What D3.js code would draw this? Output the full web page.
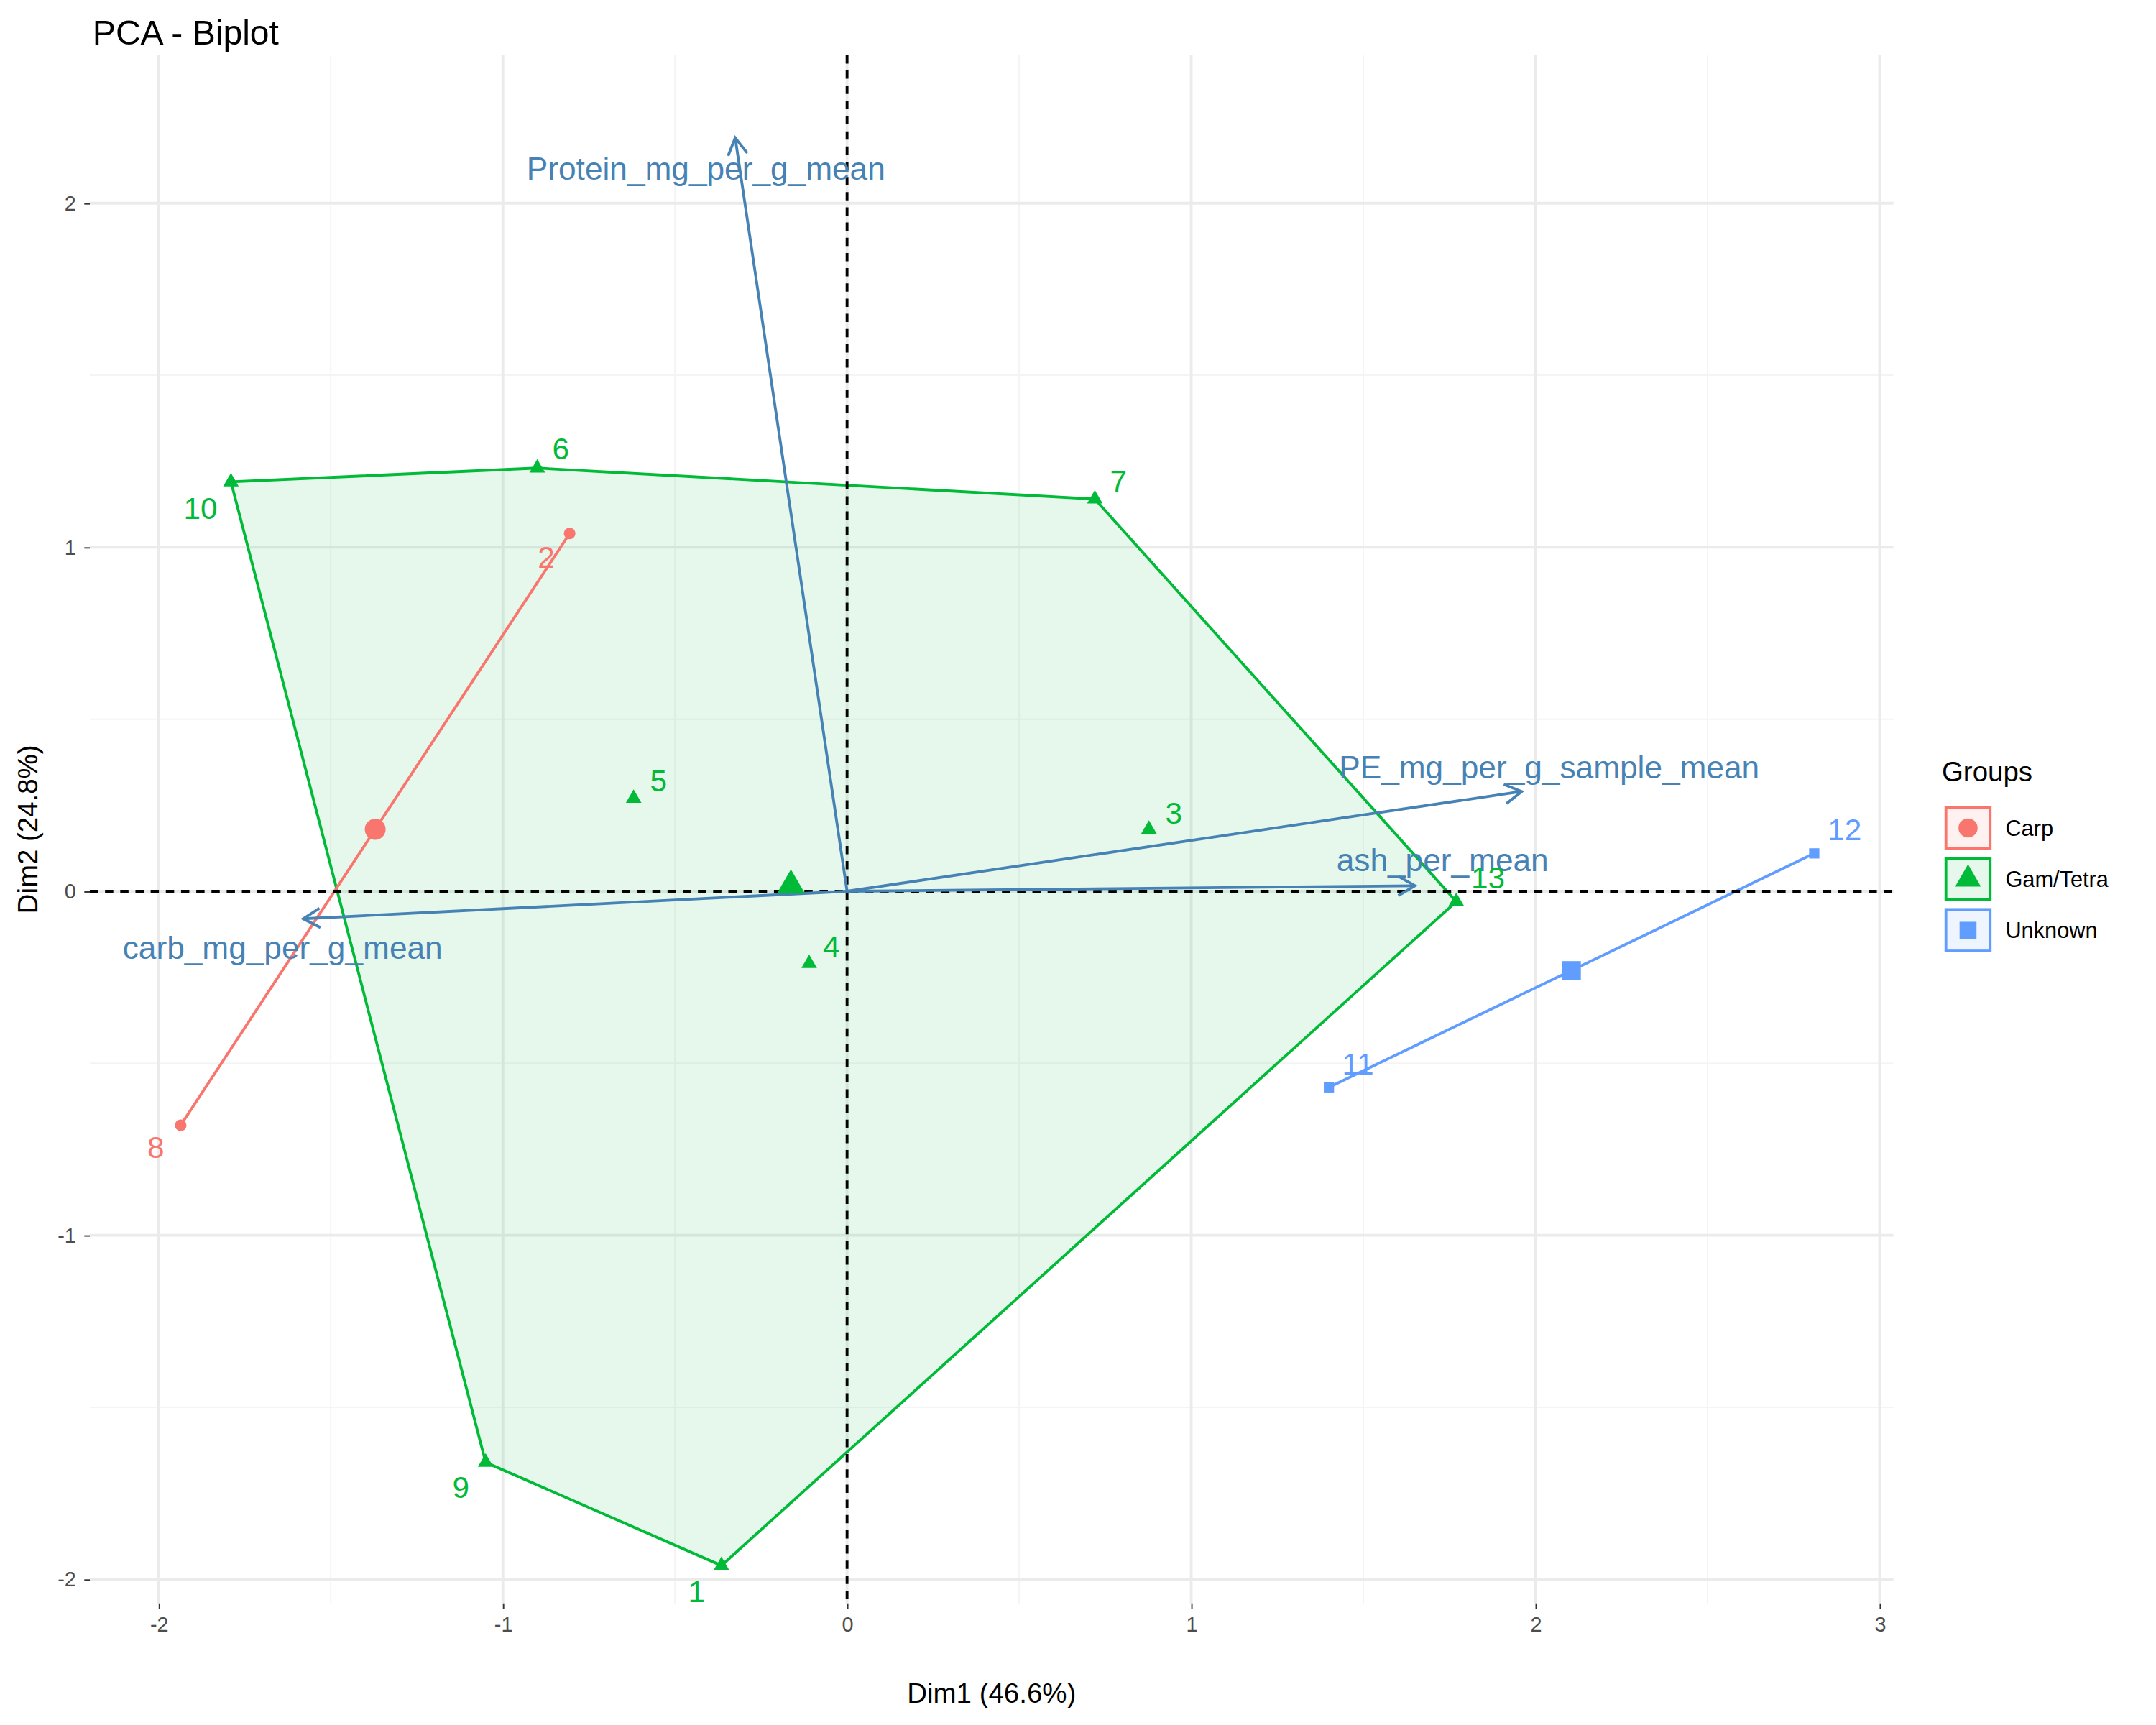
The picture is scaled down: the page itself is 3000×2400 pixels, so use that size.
<!DOCTYPE html>
<html><head><meta charset="utf-8">
<script src="https://cdn.jsdelivr.net/npm/d3@7"></script>
<style>body{margin:0;background:#fff}text{font-family:"Liberation Sans",Arial,sans-serif}</style>
</head><body>
<div id="chart"></div>
<script>
// individuals
const ids = ['1','2','3','4','5','6','7','8','9','10','11','12','13'];
const groups = ['Gam/Tetra','Carp','Gam/Tetra','Gam/Tetra','Gam/Tetra','Gam/Tetra','Gam/Tetra','Carp','Gam/Tetra','Gam/Tetra','Unknown','Unknown','Gam/Tetra'];
const dim1 = [-0.365,-0.806,0.877,-0.11,-0.62,-0.90,0.72,-1.936,-1.05,-1.79,1.40,2.81,1.77];
const dim2 = [-1.96,1.04,0.18,-0.21,0.27,1.23,1.14,-0.68,-1.66,1.19,-0.57,0.11,-0.03];
// label nudges in px (display units)
const labDx = [-18,-17,18,16,18,17,17,-18,-18,-22,21,22,23];
const labDy = [19,17,-12,-12,-13,-14,-13,16,18,19,-17,-17,-17];
// variables
const varNames = ['Protein_mg_per_g_mean','carb_mg_per_g_mean','PE_mg_per_g_sample_mean','ash_per_mean'];
const varX = [-0.325,-1.58,1.96,1.65];
const varY = [2.19,-0.08,0.29,0.016];
const varLabX = [-0.41,-1.64,2.04,1.73];
const varLabY = [2.10,-0.165,0.36,0.09];
const groupNames = ['Carp','Gam/Tetra','Unknown'];
const groupColors = ['#F8766D','#00BA38','#619CFF'];
const hullOrder = ['10','6','7','13','1','9'];
const xTicks = [-2,-1,0,1,2,3];
const yTicks = [-2,-1,0,1,2];

const W = 1560, H = 1248;
const svg = d3.select('#chart').append('svg')
  .attr('width', 3000).attr('height', 2400)
  .attr('viewBox', `0 0 ${W} ${H}`);

const pl = 65, pr = 1370, pt = 40, pb = 1160;
const x = d3.scaleLinear().domain([-2.2, 3.04]).range([pl, pr]);
const y = d3.scaleLinear().domain([2.43, -2.07]).range([pt, pb]);
const col = d3.scaleOrdinal().domain(groupNames).range(groupColors);
const fmt = d => String(d);

//grid
const minorX = d3.range(-2.5, 3.1, 0.5).filter(v => v % 1 !== 0 && v >= -2.18);
const minorY = d3.range(-2.5, 2.6, 0.5).filter(v => v % 1 !== 0 && v >= -2.07 && v <= 2.43);
const g = svg.append('g');
minorX.forEach(v => g.append('line').attr('x1', x(v)).attr('x2', x(v)).attr('y1', pt).attr('y2', pb).attr('stroke', '#f4f4f4').attr('stroke-width', 1));
minorY.forEach(v => g.append('line').attr('y1', y(v)).attr('y2', y(v)).attr('x1', pl).attr('x2', pr).attr('stroke', '#f4f4f4').attr('stroke-width', 1));
xTicks.forEach(v => g.append('line').attr('x1', x(v)).attr('x2', x(v)).attr('y1', pt).attr('y2', pb).attr('stroke', '#ebebeb').attr('stroke-width', 2));
yTicks.forEach(v => g.append('line').attr('y1', y(v)).attr('y2', y(v)).attr('x1', pl).attr('x2', pr).attr('stroke', '#ebebeb').attr('stroke-width', 2));

//axes ticks
const xa = svg.append('g').attr('transform', `translate(0,${pb})`)
  .call(d3.axisBottom(x).tickValues(xTicks).tickSize(4).tickPadding(6).tickFormat(fmt));
const ya = svg.append('g').attr('transform', `translate(${pl},0)`)
  .call(d3.axisLeft(y).tickValues(yTicks).tickSize(4).tickPadding(6).tickFormat(fmt));
[xa, ya].forEach(a => {
  a.select('.domain').remove();
  a.selectAll('line').attr('stroke', '#333');
  a.selectAll('text').attr('fill', '#4d4d4d').style('font-size', '15px');
});

//hull
const pts = ids.map((d, i) => ({id: d, g: groups[i], x: dim1[i], y: dim2[i], dx: labDx[i], dy: labDy[i]}));
const hull = hullOrder.map(id => pts.find(p => p.id === id));
svg.append('path')
  .attr('d', d3.line().x(p => x(p.x)).y(p => y(p.y))(hull) + 'Z')
  .attr('fill', '#00BA38').attr('fill-opacity', 0.1)
  .attr('stroke', '#00BA38').attr('stroke-width', 2);

//segments for 2-point groups
['Carp', 'Unknown'].forEach(gr => {
  const p = pts.filter(d => d.g === gr);
  svg.append('line').attr('x1', x(p[0].x)).attr('y1', y(p[0].y)).attr('x2', x(p[1].x)).attr('y2', y(p[1].y))
    .attr('stroke', col(gr)).attr('stroke-width', 2);
});

//reference lines
svg.append('line').attr('x1', x(0)).attr('x2', x(0)).attr('y1', pt).attr('y2', pb)
  .attr('stroke', '#000').attr('stroke-width', 2).attr('stroke-dasharray', '6,5');
svg.append('line').attr('y1', y(0)).attr('y2', y(0)).attr('x1', pl).attr('x2', pr)
  .attr('stroke', '#000').attr('stroke-width', 2).attr('stroke-dasharray', '6,5');

//arrows
const arrowCol = '#4682B4';
varNames.forEach((n, i) => {
  const x0 = x(0), y0 = y(0), x1 = x(varX[i]), y1 = y(varY[i]);
  svg.append('line').attr('x1', x0).attr('y1', y0).attr('x2', x1).attr('y2', y1)
    .attr('stroke', arrowCol).attr('stroke-width', 2);
  const a = Math.atan2(y1 - y0, x1 - x0), L = 14, sp = Math.PI / 6;
  svg.append('path')
    .attr('d', `M${x1 - L * Math.cos(a - sp)},${y1 - L * Math.sin(a - sp)}L${x1},${y1}L${x1 - L * Math.cos(a + sp)},${y1 - L * Math.sin(a + sp)}`)
    .attr('fill', 'none').attr('stroke', arrowCol).attr('stroke-width', 2);
  svg.append('text').attr('x', x(varLabX[i])).attr('y', y(varLabY[i])).attr('dy', '0.35em')
    .attr('text-anchor', 'middle').attr('fill', arrowCol).style('font-size', '23px').text(n);
});

//symbols
function sym(gr, size) {
  const t = gr === 'Carp' ? d3.symbolCircle : gr === 'Gam/Tetra' ? d3.symbolTriangle : d3.symbolSquare;
  return d3.symbol().type(t).size(size)();
}
pts.forEach(p => {
  svg.append('path').attr('d', sym(p.g, 55)).attr('transform', `translate(${x(p.x)},${y(p.y)})`).attr('fill', col(p.g));
  svg.append('text').attr('x', x(p.x) + p.dx).attr('y', y(p.y) + p.dy).attr('dy', '0.35em')
    .attr('text-anchor', 'middle').attr('fill', col(p.g)).style('font-size', '22px').text(p.id);
});
//group means
groupNames.forEach(gr => {
  const p = pts.filter(d => d.g === gr);
  const mx = d3.mean(p, d => d.x), my = d3.mean(p, d => d.y);
  svg.append('path').attr('d', sym(gr, 180)).attr('transform', `translate(${x(mx)},${y(my)})`).attr('fill', col(gr));
});

//titles
svg.append('text').attr('x', 67).attr('y', 32).style('font-size', '25px').attr('fill', '#000').text('PCA - Biplot');
svg.append('text').attr('x', (pl + pr) / 2).attr('y', 1232).attr('text-anchor', 'middle').style('font-size', '20px').text('Dim1 (46.6%)');
svg.append('text').attr('transform', `translate(27,${(pt + pb) / 2}) rotate(-90)`).attr('text-anchor', 'middle').style('font-size', '20px').text('Dim2 (24.8%)');

//legend
const lg = svg.append('g').attr('transform', 'translate(1405,0)');
lg.append('text').attr('x', 0).attr('y', 565).style('font-size', '20px').text('Groups');
groupNames.forEach((gr, i) => {
  const cy = 599 + i * 37;
  lg.append('rect').attr('x', 3).attr('y', cy - 15).attr('width', 32).attr('height', 30)
    .attr('fill', col(gr)).attr('fill-opacity', 0.1).attr('stroke', col(gr)).attr('stroke-width', 2);
  lg.append('path').attr('d', sym(gr, 150)).attr('transform', `translate(19,${cy})`).attr('fill', col(gr));
  lg.append('text').attr('x', 46).attr('y', cy).attr('dy', '0.35em').style('font-size', '16px').text(gr);
});
</script>
</body></html>
